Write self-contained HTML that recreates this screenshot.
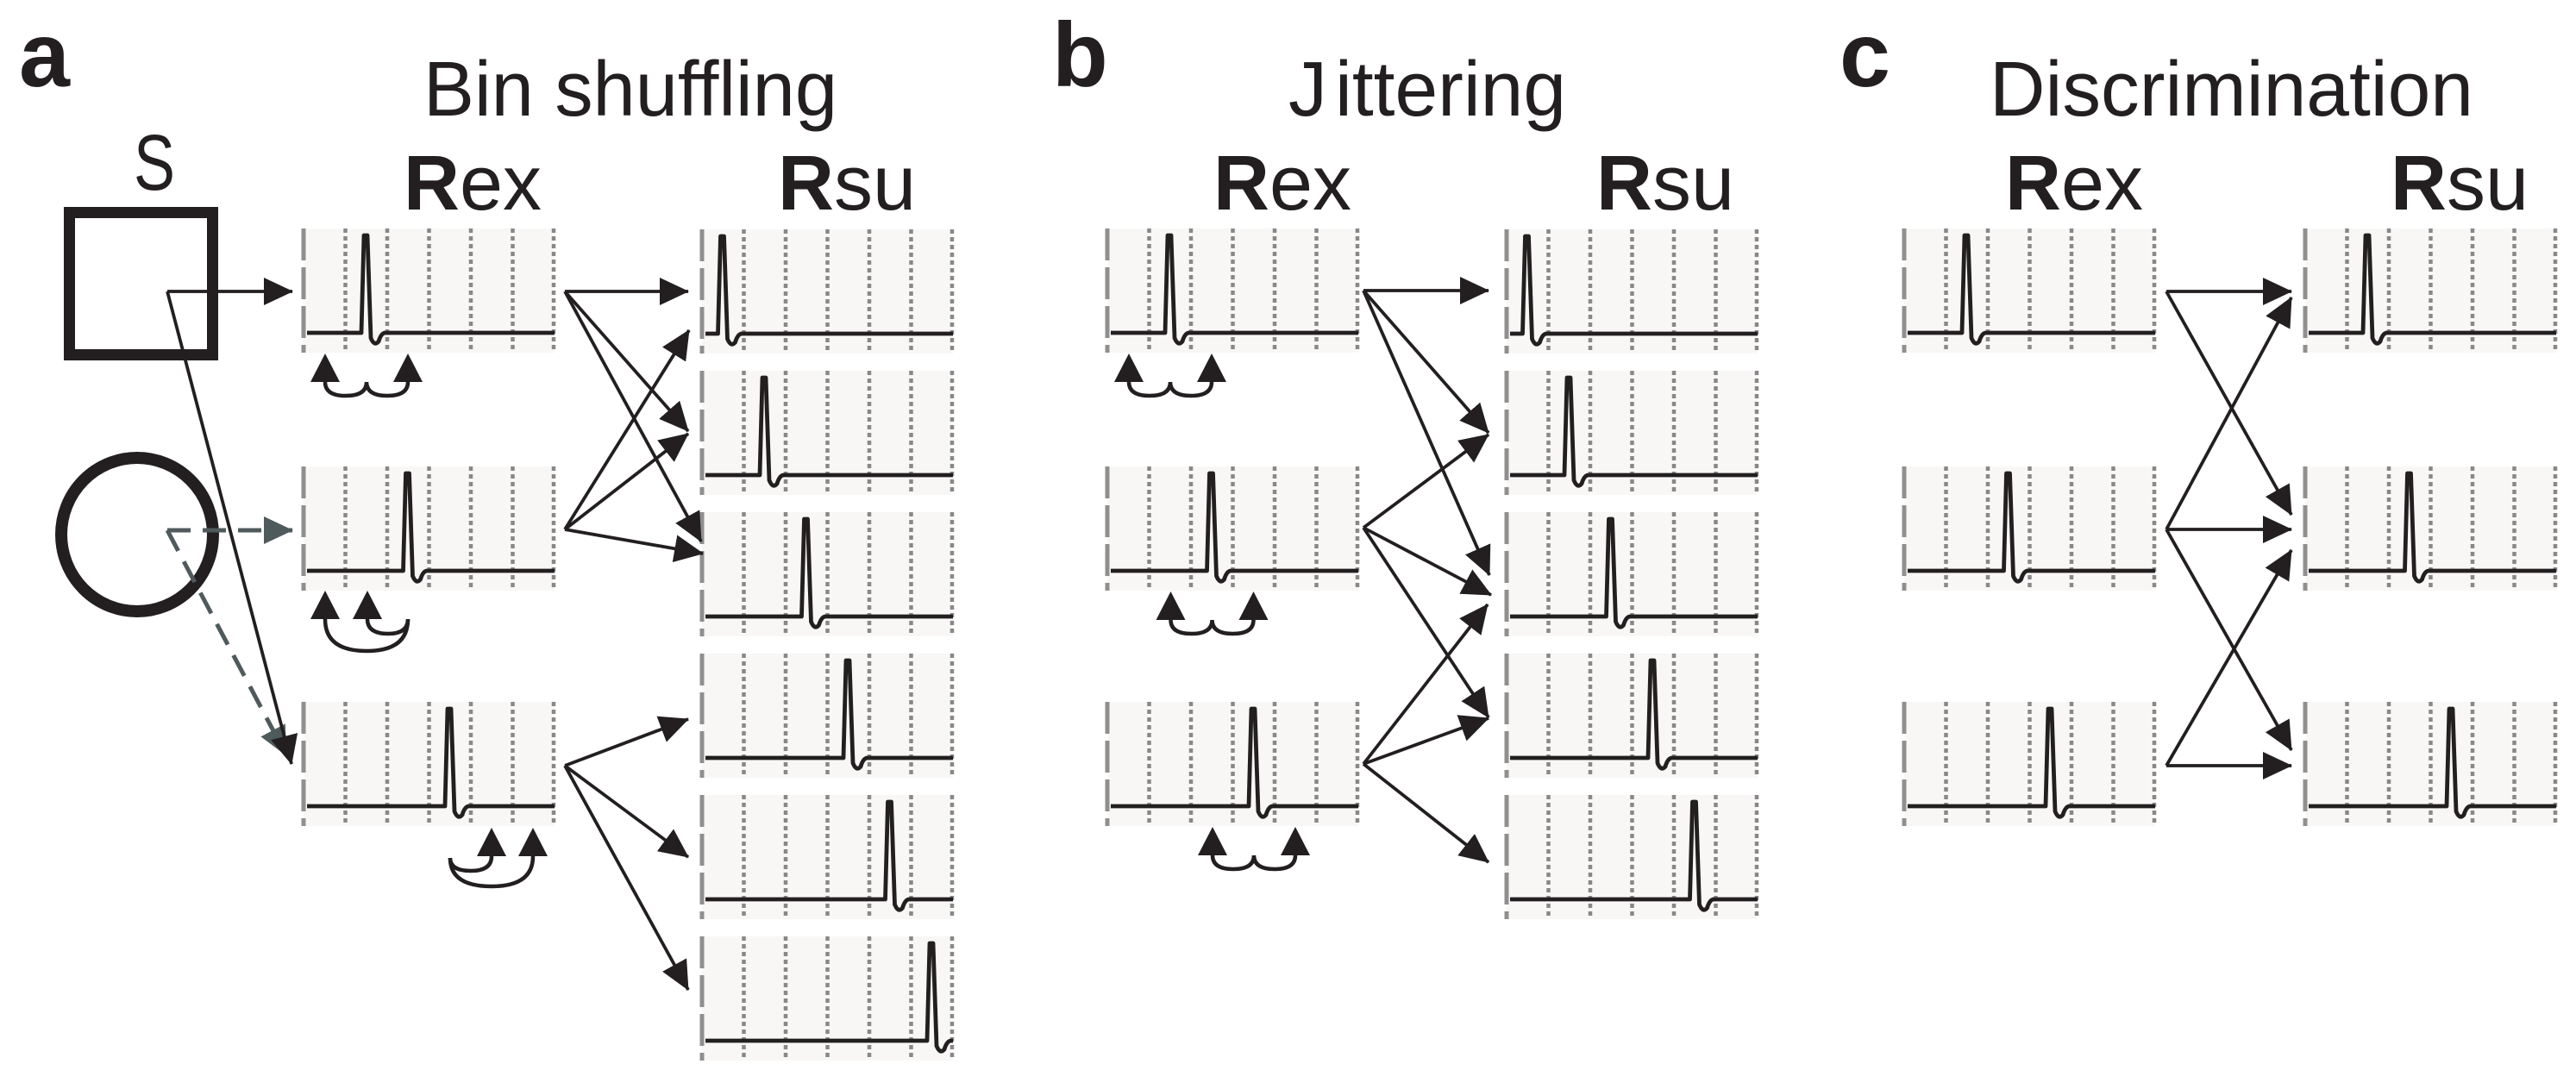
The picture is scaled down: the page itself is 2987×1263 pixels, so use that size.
<!DOCTYPE html>
<html><head><meta charset="utf-8"><style>
html,body{margin:0;padding:0;background:#fff;}
svg{display:block;}
text{font-family:"Liberation Sans",sans-serif;fill:#231f20;}
</style></head><body>
<svg width="2987" height="1263" viewBox="0 0 2987 1263" xmlns="http://www.w3.org/2000/svg">
<defs>
<g id="bx">
<rect width="291" height="144" fill="#f8f7f6"/>
<path d="M0,0V144" stroke="#8f8f8f" stroke-width="5" stroke-dasharray="37 8"/>
<path d="M48.5,0V144M97,0V144M145.5,0V144M194,0V144M242.5,0V144M290,0V144" stroke="#888" stroke-width="4.5" stroke-dasharray="5 4"/>
</g>
<path id="t0" d="M4,121H18.5L21.5,8L25.5,8L29.5,127Q33.5,137 38.5,131Q41.5,121 46.5,121H291" fill="none" stroke="#231f20" stroke-width="4.8" stroke-linejoin="round"/>
<path id="t1" d="M4,121H67L70,8L74,8L78,127Q82,137 87,131Q90,121 95,121H291" fill="none" stroke="#231f20" stroke-width="4.8" stroke-linejoin="round"/>
<path id="t2" d="M4,121H115.5L118.5,8L122.5,8L126.5,127Q130.5,137 135.5,131Q138.5,121 143.5,121H291" fill="none" stroke="#231f20" stroke-width="4.8" stroke-linejoin="round"/>
<path id="t3" d="M4,121H164L167,8L171,8L175,127Q179,137 184,131Q187,121 192,121H291" fill="none" stroke="#231f20" stroke-width="4.8" stroke-linejoin="round"/>
<path id="t4" d="M4,121H212.5L215.5,8L219.5,8L223.5,127Q227.5,137 232.5,131Q235.5,121 240.5,121H291" fill="none" stroke="#231f20" stroke-width="4.8" stroke-linejoin="round"/>
<path id="t5" d="M4,121H261L264,8L268,8L272,127Q276,137 281,131Q284,121 289,121H291" fill="none" stroke="#231f20" stroke-width="4.8" stroke-linejoin="round"/>
<g id="curl">
<path d="M-48,178Q-48,194 -24,194Q0,194 0,178Q0,194 24,194Q48,194 48,178" fill="none" stroke="#231f20" stroke-width="4.5"/>
<polygon points="-65,178 -48,145 -31,178" fill="#231f20"/>
<polygon points="31,178 48,145 65,178" fill="#231f20"/>
</g>
<marker id="ah" markerUnits="userSpaceOnUse" markerWidth="34" markerHeight="32" viewBox="0 0 34 32" refX="33" refY="16" orient="auto"><path d="M0,0L34,16L0,32z" fill="#231f20"/></marker>
<marker id="ahg" markerUnits="userSpaceOnUse" markerWidth="34" markerHeight="32" viewBox="0 0 34 32" refX="33" refY="16" orient="auto"><path d="M0,0L34,16L0,32z" fill="#4f5a5c"/></marker>
</defs>

<text x="22" y="100" font-size="106" font-weight="bold">a</text>
<text x="1220" y="100" font-size="106" font-weight="bold">b</text>
<text x="2133" y="100" font-size="106" font-weight="bold">c</text>

<text x="491" y="134" font-size="90" textLength="480" lengthAdjust="spacingAndGlyphs">Bin shuffling</text>
<text x="1494" y="134" font-size="90">J</text>
<text x="1548" y="134" font-size="90" textLength="268" lengthAdjust="spacingAndGlyphs">ittering</text>
<text x="2307" y="134" font-size="90" textLength="561" lengthAdjust="spacingAndGlyphs">Discrimination</text>
<text x="155" y="220" font-size="92" textLength="48" lengthAdjust="spacingAndGlyphs">S</text>

<text x="468" y="243" font-size="90"><tspan font-weight="bold">R</tspan>ex</text>
<text x="902" y="243" font-size="90"><tspan font-weight="bold">R</tspan>su</text>
<text x="1407" y="243" font-size="90"><tspan font-weight="bold">R</tspan>ex</text>
<text x="1851" y="243" font-size="90"><tspan font-weight="bold">R</tspan>su</text>
<text x="2325" y="243" font-size="90"><tspan font-weight="bold">R</tspan>ex</text>
<text x="2772" y="243" font-size="90"><tspan font-weight="bold">R</tspan>su</text>

<rect x="80.5" y="246.5" width="166" height="165" fill="none" stroke="#231f20" stroke-width="13"/>
<ellipse cx="159" cy="620" rx="88" ry="89" fill="none" stroke="#231f20" stroke-width="14"/>

<use href="#bx" x="352" y="265"/><use href="#t1" x="352" y="265"/>
<use href="#bx" x="352" y="541"/><use href="#t2" x="352" y="541"/>
<use href="#bx" x="352" y="814"/><use href="#t3" x="352" y="814"/>
<use href="#bx" x="814" y="266"/><use href="#t0" x="814" y="266"/>
<use href="#bx" x="814" y="430"/><use href="#t1" x="814" y="430"/>
<use href="#bx" x="814" y="594"/><use href="#t2" x="814" y="594"/>
<use href="#bx" x="814" y="758"/><use href="#t3" x="814" y="758"/>
<use href="#bx" x="814" y="922"/><use href="#t4" x="814" y="922"/>
<use href="#bx" x="814" y="1086"/><use href="#t5" x="814" y="1086"/>

<use href="#curl" x="425" y="265"/>
<g fill="none" stroke="#231f20" stroke-width="4.5">
<path d="M426,718Q426,735 450,735Q473,735 473,718"/>
<path d="M377,718Q377,755 425,755Q473,755 473,718"/>
<path d="M570,993Q570,1010 546,1010Q522,1010 522,995"/>
<path d="M618,993Q618,1028 570,1028Q522,1028 522,995"/>
</g>
<g fill="#231f20">
<polygon points="360,718 377,685 394,718"/><polygon points="409,718 426,685 443,718"/>
<polygon points="553,993 570,960 587,993"/><polygon points="601,993 618,960 635,993"/>
</g>

<g stroke="#4f5a5c" stroke-width="5" stroke-dasharray="27 14" fill="none">
<line x1="194" y1="615" x2="339" y2="615" marker-end="url(#ahg)"/>
<line x1="194" y1="615" x2="332" y2="876" marker-end="url(#ahg)"/>
</g>
<g stroke="#231f20" stroke-width="3.8" fill="none" marker-end="url(#ah)">
<polyline points="194,338 339,338"/>
<line x1="194" y1="338" x2="338" y2="886"/>
<line x1="655" y1="338" x2="798" y2="338"/>
<line x1="655" y1="338" x2="798" y2="500"/>
<line x1="655" y1="338" x2="813" y2="628"/>
<line x1="655" y1="614" x2="799" y2="383"/>
<line x1="655" y1="614" x2="798" y2="503"/>
<line x1="655" y1="614" x2="815" y2="642"/>
<line x1="655" y1="888" x2="798" y2="834"/>
<line x1="655" y1="888" x2="798" y2="994"/>
<line x1="655" y1="888" x2="798" y2="1148"/>
</g>

<use href="#bx" x="1284" y="265"/><use href="#t1" x="1284" y="265"/>
<use href="#bx" x="1284" y="541"/><use href="#t2" x="1284" y="541"/>
<use href="#bx" x="1284" y="814"/><use href="#t3" x="1284" y="814"/>
<use href="#bx" x="1747" y="266"/><use href="#t0" x="1747" y="266"/>
<use href="#bx" x="1747" y="430"/><use href="#t1" x="1747" y="430"/>
<use href="#bx" x="1747" y="594"/><use href="#t2" x="1747" y="594"/>
<use href="#bx" x="1747" y="758"/><use href="#t3" x="1747" y="758"/>
<use href="#bx" x="1747" y="922"/><use href="#t4" x="1747" y="922"/>
<use href="#curl" x="1357" y="265"/>
<use href="#curl" x="1405.5" y="541"/>
<use href="#curl" x="1454" y="814"/>
<g stroke="#231f20" stroke-width="3.8" fill="none" marker-end="url(#ah)">
<line x1="1581" y1="337" x2="1726" y2="337"/>
<line x1="1581" y1="337" x2="1726" y2="502"/>
<line x1="1581" y1="337" x2="1727" y2="667"/>
<line x1="1581" y1="612" x2="1726" y2="504"/>
<line x1="1581" y1="612" x2="1729" y2="690"/>
<line x1="1581" y1="612" x2="1726" y2="832"/>
<line x1="1581" y1="886" x2="1725" y2="701"/>
<line x1="1581" y1="886" x2="1726" y2="833"/>
<line x1="1581" y1="886" x2="1726" y2="1000"/>
</g>

<use href="#bx" x="2208" y="265"/><use href="#t1" x="2208" y="265"/>
<use href="#bx" x="2208" y="541"/><use href="#t2" x="2208" y="541"/>
<use href="#bx" x="2208" y="814"/><use href="#t3" x="2208" y="814"/>
<use href="#bx" x="2673" y="265"/><use href="#t1" x="2673" y="265"/>
<use href="#bx" x="2673" y="541"/><use href="#t2" x="2673" y="541"/>
<use href="#bx" x="2673" y="814"/><use href="#t3" x="2673" y="814"/>
<g stroke="#231f20" stroke-width="3.8" fill="none" marker-end="url(#ah)">
<line x1="2512" y1="338" x2="2657" y2="338"/>
<line x1="2512" y1="338" x2="2657" y2="597"/>
<line x1="2512" y1="614" x2="2657" y2="345"/>
<line x1="2512" y1="614" x2="2657" y2="614"/>
<line x1="2512" y1="614" x2="2657" y2="870"/>
<line x1="2512" y1="888" x2="2657" y2="638"/>
<line x1="2512" y1="888" x2="2657" y2="888"/>
</g>
</svg>
</body></html>
